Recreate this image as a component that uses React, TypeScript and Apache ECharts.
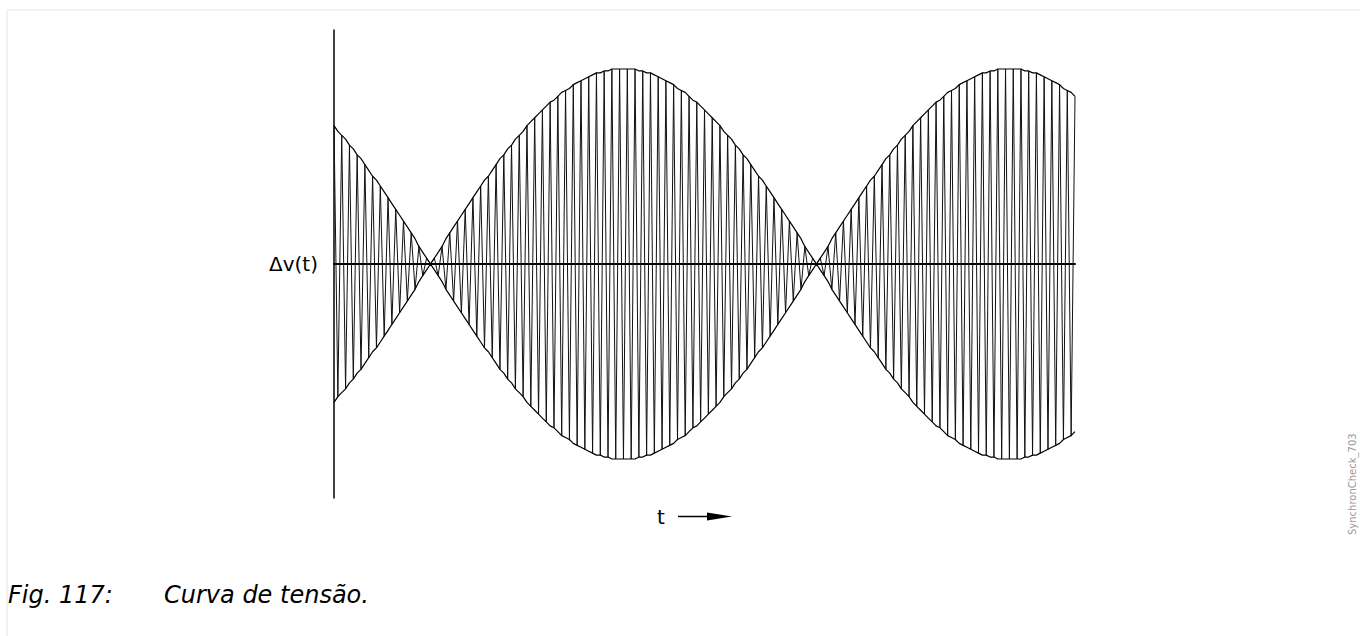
import React, { useEffect, useRef } from "react";
import * as echarts from "echarts";

// Peak amplitudes of the oscillation, one per half cycle (0 = null, 100 = envelope maximum)
const peakAmplitudes: number[] = [
  71, 68, 66, 64, 61, 59, 56, 54, 51, 48, 45, 43, 40, 37, 34, 31, 28, 25, 22, 19, 16, 13, 9, 6, 3, 0,
  3, 6, 9, 13, 16, 19, 22, 25, 28, 31, 34, 37, 40, 43, 45, 48, 51, 54, 56, 59, 61, 64, 66, 68,
  71, 73, 75, 77, 79, 81, 83, 84, 86, 88, 89, 90, 92, 93, 94, 95, 96, 97, 98, 98, 99, 99, 100, 100, 100, 100,
  100, 100, 100, 99, 99, 98, 98, 97, 96, 95, 94, 93, 92, 90, 89, 88, 86, 84, 83, 81, 79, 77, 75, 73,
  71, 68, 66, 64, 61, 59, 56, 54, 51, 48, 45, 43, 40, 37, 34, 31, 28, 25, 22, 19, 16, 13, 9, 6, 3, 0,
  3, 6, 9, 13, 16, 19, 22, 25, 28, 31, 34, 37, 40, 43, 45, 48, 51, 54, 56, 59, 61, 64, 66, 68,
  71, 73, 75, 77, 79, 81, 83, 84, 86, 88, 89, 90, 92, 93, 94, 95, 96, 97, 98, 98, 99, 99, 100, 100, 100, 100,
  100, 100, 100, 99, 99, 98, 98, 97, 96, 95, 94, 93, 92, 90, 89, 88, 86,
];
const halfCycle = 0.5; // time units per half cycle
const yLabel = "Δv(t)";
const xLabel = "t";
const captionNumber = "Fig. 117:";
const captionText = "Curva de tensão.";
const sideNote = "SynchronCheck_703";

export default function App() {
  const ref = useRef<HTMLDivElement>(null);
  useEffect(() => {
    if (!ref.current) return;
    const chart = echarts.init(ref.current, null, { renderer: "svg" });
    const carrier = peakAmplitudes.map((a, j) => [j * halfCycle, j % 2 === 0 ? a : -a]);
    const upper = peakAmplitudes.map((a, j) => [j * halfCycle, a]);
    const lower = peakAmplitudes.map((a, j) => [j * halfCycle, -a]);
    const tMax = (peakAmplitudes.length - 1) * halfCycle;
    chart.setOption({
      animation: false,
      backgroundColor: "#ffffff",
      grid: { left: 334, top: 30, width: 741, height: 468 },
      xAxis: {
        type: "value",
        min: 0,
        max: tMax,
        axisLine: { show: true, onZero: true, lineStyle: { color: "#000", width: 2 } },
        axisTick: { show: false },
        axisLabel: { show: false },
        splitLine: { show: false },
      },
      yAxis: {
        type: "value",
        min: -120,
        max: 120,
        axisLine: { show: true, lineStyle: { color: "#000", width: 1.5 } },
        axisTick: { show: false },
        axisLabel: { show: false },
        splitLine: { show: false },
      },
      series: [
        {
          type: "line",
          data: carrier,
          showSymbol: false,
          lineStyle: { color: "#111", width: 1 },
          z: 2,
        },
        {
          type: "line",
          data: upper,
          showSymbol: false,
          lineStyle: { color: "#000", width: 1.2 },
          z: 3,
        },
        {
          type: "line",
          data: lower,
          showSymbol: false,
          lineStyle: { color: "#000", width: 1.2 },
          z: 3,
        },
      ],
      graphic: [
        { type: "line", shape: { x1: 7, y1: 10, x2: 1360, y2: 10 }, style: { stroke: "#e6e6e6", lineWidth: 1 } },
        { type: "line", shape: { x1: 7, y1: 10, x2: 7, y2: 636 }, style: { stroke: "#e6e6e6", lineWidth: 1 } },
        {
          type: "text",
          x: 318,
          y: 264,
          style: { text: yLabel, fontSize: 20, fontFamily: "DejaVu Sans", fill: "#000", textAlign: "right", textVerticalAlign: "middle" },
        },
        {
          type: "text",
          x: 661,
          y: 517,
          style: { text: xLabel, fontSize: 20, fontFamily: "DejaVu Sans", fill: "#000", textAlign: "center", textVerticalAlign: "middle" },
        },
        { type: "line", shape: { x1: 678, y1: 516.5, x2: 712, y2: 516.5 }, style: { stroke: "#000", lineWidth: 1.5 } },
        { type: "polygon", shape: { points: [[707, 512.5], [732, 516.5], [707, 520.5]] }, style: { fill: "#000" } },
        {
          type: "text",
          x: 8,
          y: 595,
          style: { text: captionNumber, fontSize: 24, fontFamily: "DejaVu Sans", fontStyle: "italic", fill: "#000", textAlign: "left", textVerticalAlign: "middle" },
        },
        {
          type: "text",
          x: 164,
          y: 595,
          style: { text: captionText, fontSize: 24, fontFamily: "DejaVu Sans", fontStyle: "italic", fill: "#000", textAlign: "left", textVerticalAlign: "middle" },
        },
        {
          type: "text",
          x: 1352,
          y: 535,
          rotation: Math.PI / 2,
          style: { text: sideNote, fontSize: 10, fontFamily: "DejaVu Sans", fill: "#999", textAlign: "left", textVerticalAlign: "middle" },
        },
      ],
    });
    return () => chart.dispose();
  }, []);
  return <div ref={ref} style={{ position: "fixed", left: 0, top: 0, width: 1360, height: 636 }} />;
}
